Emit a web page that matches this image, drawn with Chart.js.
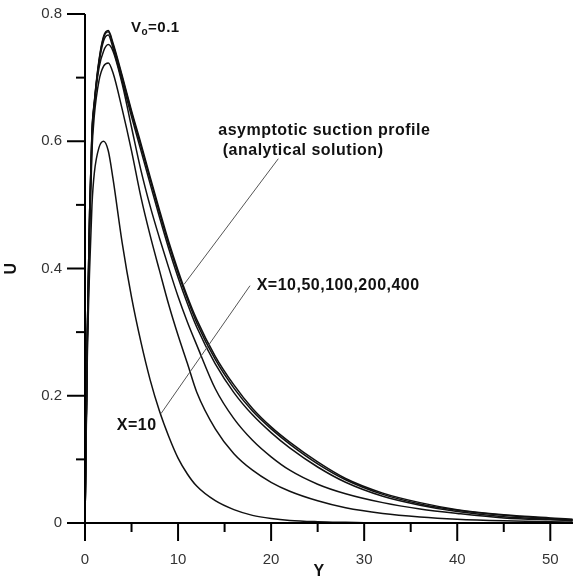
<!DOCTYPE html>
<html>
<head>
<meta charset="utf-8">
<script src="https://cdn.jsdelivr.net/npm/chart.js@4.4.1/dist/chart.umd.min.js"></script>
<style>
  html, body { margin: 0; padding: 0; background: #fff; }
  #wrap { width: 579px; height: 583px; position: relative; }
</style>
</head>
<body>
<div id="wrap"><canvas id="c" width="579" height="583"></canvas></div>
<script>
// ---- data ----
const yPos = [0, 0.25, 0.5, 0.75, 1, 1.5, 2, 2.5, 3, 4, 5, 6, 7, 8, 9, 10, 11, 12, 14, 16, 18, 20, 22, 25, 28, 32, 36, 40, 45, 50, 52.4];

const uX10  = [0, 0.26, 0.40, 0.50, 0.55, 0.59, 0.600, 0.585, 0.542, 0.440, 0.355, 0.285, 0.225, 0.176, 0.136, 0.102, 0.077, 0.058, 0.035, 0.021, 0.012, 0.007, 0.004, 0.002, 0.001, 0, 0, 0, 0, 0, 0];
const uX50  = [0, 0.28, 0.46, 0.585, 0.64, 0.695, 0.718, 0.723, 0.708, 0.650, 0.585, 0.513, 0.452, 0.397, 0.343, 0.295, 0.251, 0.206, 0.148, 0.109, 0.083, 0.064, 0.050, 0.035, 0.024, 0.015, 0.0095, 0.006, 0.0035, 0.002, 0.0015];
const uX100 = [0, 0.29, 0.475, 0.60, 0.655, 0.715, 0.742, 0.752, 0.742, 0.690, 0.622, 0.555, 0.498, 0.448, 0.401, 0.356, 0.316, 0.280, 0.211, 0.164, 0.130, 0.104, 0.083, 0.061, 0.046, 0.032, 0.022, 0.015, 0.008, 0.005, 0.004];
const uX200 = [0, 0.30, 0.49, 0.612, 0.658, 0.722, 0.758, 0.767, 0.747, 0.694, 0.639, 0.586, 0.533, 0.481, 0.431, 0.386, 0.345, 0.308, 0.250, 0.205, 0.170, 0.142, 0.118, 0.088, 0.064, 0.042, 0.028, 0.018, 0.010, 0.006, 0.004];
const uX400 = [0, 0.30, 0.49, 0.615, 0.660, 0.725, 0.763, 0.772, 0.752, 0.700, 0.645, 0.593, 0.540, 0.488, 0.438, 0.393, 0.352, 0.315, 0.257, 0.212, 0.176, 0.148, 0.124, 0.093, 0.068, 0.045, 0.030, 0.020, 0.012, 0.007, 0.005];
const uAsym = [0, 0.30, 0.49, 0.617, 0.662, 0.727, 0.765, 0.774, 0.755, 0.703, 0.648, 0.597, 0.544, 0.492, 0.442, 0.397, 0.356, 0.320, 0.262, 0.217, 0.180, 0.151, 0.127, 0.096, 0.070, 0.047, 0.032, 0.021, 0.013, 0.008, 0.006];

const xMajorTicks = [0, 10, 20, 30, 40, 50];
const xMinorTicks = [5, 15, 25, 35, 45];
const yMajorTicks = [0, 0.2, 0.4, 0.6, 0.8];
const yMinorTicks = [0.1, 0.3, 0.5, 0.7];
const xTickLabels = ['0', '10', '20', '30', '40', '50'];
const yTickLabels = ['0', '0.2', '0.4', '0.6', '0.8'];

const xAxisTitle = 'Y';
const yAxisTitle = 'U';

// annotation anchors in data units (Y, U)
const annotations = [
  { text: 'asymptotic suction profile', at: [14.32, 0.616] },
  { text: '(analytical solution)', at: [14.80, 0.5855] },
  { text: 'X=10,50,100,200,400', at: [18.45, 0.3735] },
  { text: 'X=10', at: [3.41, 0.1535] }
];
const leaders = [
  { from: [20.77, 0.5725], to: [10.64, 0.375] },
  { from: [17.73, 0.373], to: [8.17, 0.172] }
];
const vLabel = { main: 'V', sub: 'o', rest: '=0.1', at: [4.94, 0.779] };

const series = [uX10, uX50, uX100, uX200, uX400, uAsym];
const seriesNames = ['X=10', 'X=50', 'X=100', 'X=200', 'X=400', 'asymptotic'];

const datasets = series.map((arr, i) => ({
  label: seriesNames[i],
  data: yPos.map((y, k) => ({ x: y, y: arr[k] })),
  borderColor: '#111',
  borderWidth: 1.5,
  pointRadius: 0,
  fill: false,
  cubicInterpolationMode: 'monotone'
}));

const FONT = '"Liberation Sans", Arial, Helvetica, sans-serif';

const decor = {
  id: 'decor',
  afterDraw(chart) {
    const { ctx, scales: { x, y }, chartArea } = chart;
    const px = v => x.getPixelForValue(v);
    const py = v => y.getPixelForValue(v);
    const x0 = px(0), y0 = py(0);
    const majorLen = 18, minorLen = 9;
    ctx.save();
    ctx.strokeStyle = '#000';
    ctx.lineWidth = 2;
    ctx.lineCap = 'butt';
    const seg = (a, b, c, d) => { ctx.beginPath(); ctx.moveTo(a, b); ctx.lineTo(c, d); ctx.stroke(); };
    // axis lines
    seg(x0, py(0.8), x0, y0 + majorLen);
    seg(x0 - majorLen, y0, chartArea.right, y0);
    // ticks
    yMajorTicks.forEach(v => seg(x0 - majorLen, py(v), x0, py(v)));
    yMinorTicks.forEach(v => seg(x0 - minorLen, py(v), x0, py(v)));
    xMajorTicks.forEach(v => seg(px(v), y0, px(v), y0 + majorLen));
    xMinorTicks.forEach(v => seg(px(v), y0, px(v), y0 + minorLen));

    // leader lines
    ctx.strokeStyle = '#555';
    ctx.lineWidth = 1;
    leaders.forEach(l => seg(px(l.from[0]), py(l.from[1]), px(l.to[0]), py(l.to[1])));

    // annotation text
    ctx.fillStyle = '#111';
    ctx.textBaseline = 'middle';
    ctx.textAlign = 'left';
    ctx.font = 'bold 16px ' + FONT;
    try { ctx.letterSpacing = '0.5px'; } catch (e) {}
    annotations.forEach(a => ctx.fillText(a.text, px(a.at[0]), py(a.at[1])));

    // V_o = 0.1
    let vx = px(vLabel.at[0]);
    const vy = py(vLabel.at[1]);
    ctx.font = 'bold 15px ' + FONT;
    ctx.fillText(vLabel.main, vx, vy);
    vx += ctx.measureText(vLabel.main).width;
    ctx.font = 'bold 10px ' + FONT;
    ctx.fillText(vLabel.sub, vx, vy + 5);
    vx += ctx.measureText(vLabel.sub).width;
    ctx.font = 'bold 15px ' + FONT;
    ctx.fillText(vLabel.rest, vx, vy);

    // axis titles
    ctx.font = 'bold 16px ' + FONT;
    ctx.textAlign = 'center';
    ctx.fillText(xAxisTitle, chartArea.left + 234, 572);
    ctx.save();
    ctx.translate(12, (chartArea.top + chartArea.bottom) / 2);
    ctx.rotate(-Math.PI / 2);
    ctx.fillText(yAxisTitle, 0, 0);
    ctx.restore();
    ctx.restore();
  }
};

new Chart(document.getElementById('c'), {
  type: 'line',
  data: { datasets },
  plugins: [decor],
  options: {
    responsive: false,
    animation: false,
    events: [],
    layout: { padding: { left: 0, right: 6, top: 14, bottom: 0 } },
    plugins: { legend: { display: false }, tooltip: { enabled: false } },
    scales: {
      x: {
        type: 'linear',
        min: 0,
        max: 52.44,
        afterBuildTicks: s => { s.ticks = xMajorTicks.map(v => ({ value: v })); },
        afterFit: s => { s.height = 60; },
        ticks: {
          autoSkip: false, maxRotation: 0, padding: 10, color: '#333',
          font: { family: FONT, size: 15 },
          callback: (v) => xTickLabels[xMajorTicks.indexOf(v)] ?? ''
        },
        grid: { display: true, drawOnChartArea: false, drawTicks: true, tickLength: 18, color: 'rgba(0,0,0,0)' },
        border: { display: false }
      },
      y: {
        type: 'linear',
        min: 0,
        max: 0.8,
        afterBuildTicks: s => { s.ticks = yMajorTicks.map(v => ({ value: v })); },
        afterFit: s => { s.width = 85; },
        ticks: {
          autoSkip: false, padding: 5, color: '#333',
          font: { family: FONT, size: 15 },
          callback: (v) => { const i = yMajorTicks.findIndex(t => Math.abs(t - v) < 1e-9); return i >= 0 ? yTickLabels[i] : ''; }
        },
        grid: { display: true, drawOnChartArea: false, drawTicks: true, tickLength: 18, color: 'rgba(0,0,0,0)' },
        border: { display: false }
      }
    }
  }
});
</script>
</body>
</html>
